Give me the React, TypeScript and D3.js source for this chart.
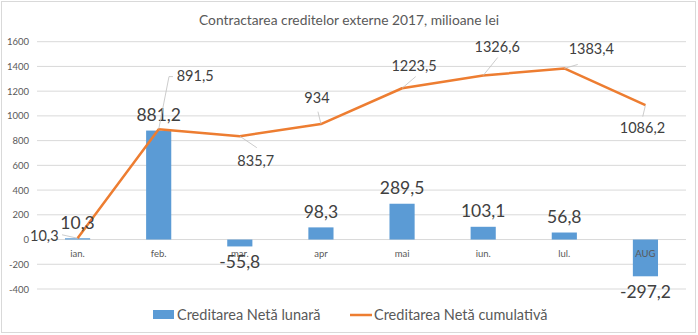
import React from "react";
import * as d3 from "d3";

const categories = ["ian.", "feb.", "mar.", "apr", "mai", "iun.", "lul.", "AUG"];
const monthly = [10.3, 881.2, -55.8, 98.3, 289.5, 103.1, 56.8, -297.2];
const cumulative = [10.3, 891.5, 835.7, 934, 1223.5, 1326.6, 1383.4, 1086.2];
const yTicks = [-400, -200, 0, 200, 400, 600, 800, 1000, 1200, 1400, 1600];
const title = "Contractarea creditelor externe 2017, milioane lei";
const seriesNames = ["Creditarea Netă lunară", "Creditarea Netă cumulativă"];

// layout only: label anchor offset [dx, dy, anchor] and leader-line end offset [ex, ey], relative to the point
const lineLabelOffsets: [number, number, string][] = [
  [-19, 2.5, "end"],
  [18, -48.5, "start"],
  [16, 29.5, "middle"],
  [-4, -21, "middle"],
  [12, -17.5, "middle"],
  [14, -24, "middle"],
  [27, -14, "middle"],
  [-3, 27.5, "middle"],
];
const leaderEnds: [number, number][] = [
  [-15.5, -3.5],
  [10.3, -52.7],
  [17, 11.5],
  [-3, -12.4],
  [13.6, -11.6],
  [14.5, -18],
  [13.4, -4],
  [-2.7, 11.4],
];

const W = 698;
const H = 335;
const FONT = "Lato, 'Open Sans', sans-serif";

const fmt = (v: number) => String(v).replace(".", ",");

export default function App() {
  const left = 37;
  const right = 686;
  const x = d3.scaleBand<string>().domain(categories).range([left, right]).paddingInner(0.69).paddingOuter(0.345);
  const y = d3.scaleLinear().domain([-400, 1600]).range([289, 41.7]);
  const cx = (i: number) => (x(categories[i]) as number) + x.bandwidth() / 2;
  const line = d3
    .line<number>()
    .x((_, i) => cx(i))
    .y((d) => y(d));

  return (
    <svg width={W} height={H} style={{ position: "absolute", left: 0, top: 0 }} fontFamily={FONT}>
      <rect x={0} y={0} width={W} height={H} fill="#fff" />
      <rect x={1.5} y={1.5} width={694} height={331} fill="none" stroke="#D9D9D9" strokeWidth={1} />
      <text x={349} y={25} textAnchor="middle" fontSize={13.8} fill="#595959">
        {title}
      </text>
      {yTicks.map((t) => (
        <g key={t}>
          <line x1={left} x2={right} y1={y(t)} y2={y(t)} stroke="#D9D9D9" strokeWidth={1} />
          <text x={29} y={y(t) + 3.5} textAnchor="end" fontSize={9.5} fill="#595959">
            {t}
          </text>
        </g>
      ))}
      {monthly.map((v, i) => (
        <rect
          key={i}
          x={x(categories[i])}
          width={x.bandwidth()}
          y={Math.min(y(v), y(0))}
          height={Math.abs(y(v) - y(0))}
          fill="#5B9BD5"
        />
      ))}
      {categories.map((c, i) => (
        <text key={c} x={cx(i)} y={257} textAnchor="middle" fontSize={9.5} fill="#595959">
          {c}
        </text>
      ))}
      <path d={line(cumulative) as string} fill="none" stroke="#ED7D31" strokeWidth={2.5} strokeLinejoin="round" />
      {monthly.map((v, i) => (
        <text
          key={i}
          x={cx(i)}
          y={v >= 0 ? y(v) - 9.5 : y(v) + 22}
          textAnchor="middle"
          fontSize={17.5}
          fill="#404040"
        >
          {fmt(v)}
        </text>
      ))}
      {cumulative.map((v, i) => {
        const [dx, dy, anchor] = lineLabelOffsets[i];
        const [ex, ey] = leaderEnds[i];
        const px = cx(i);
        const py = y(v);
        return (
          <g key={i}>
            <polyline
              points={
                i === 1
                  ? `${px},${py} ${px + ex},${py + ey} ${px + ex + 4},${py + ey}`
                  : `${px},${py} ${px + ex},${py + ey}`
              }
              fill="none"
              stroke="#BFBFBF"
              strokeWidth={0.8}
            />
            <text x={px + dx} y={py + dy} textAnchor={anchor} fontSize={14.5} fill="#404040">
              {fmt(v)}
            </text>
          </g>
        );
      })}
      <rect x={153} y={310} width={21} height={9} fill="#5B9BD5" />
      <text x={177} y={320} fontSize={14.5} fill="#595959">
        {seriesNames[0]}
      </text>
      <line x1={350} x2={372} y1={315} y2={315} stroke="#ED7D31" strokeWidth={2.5} />
      <text x={374} y={320} fontSize={14.5} fill="#595959">
        {seriesNames[1]}
      </text>
    </svg>
  );
}
